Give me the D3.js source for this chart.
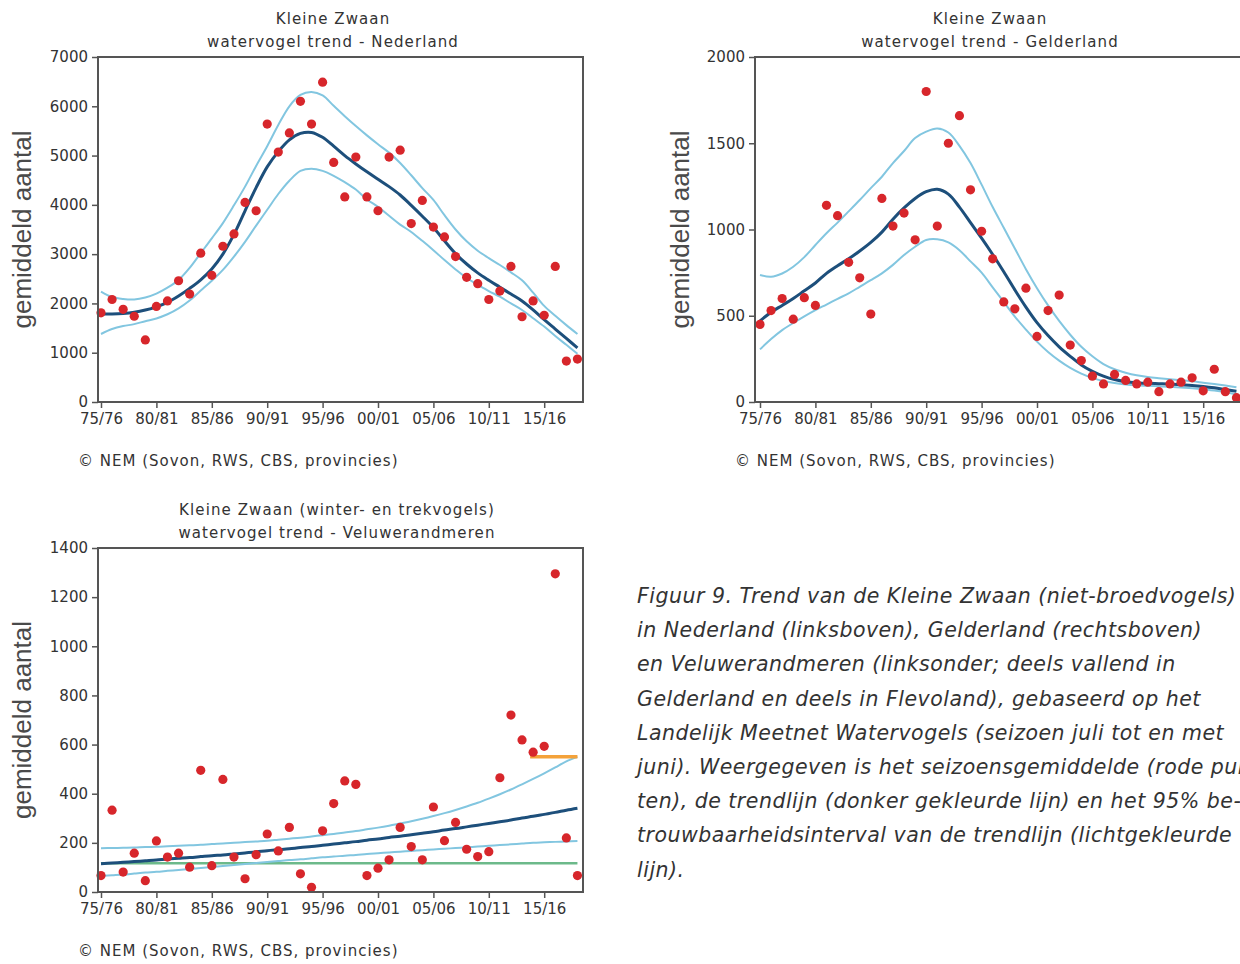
<!DOCTYPE html>
<html>
<head>
<meta charset="utf-8">
<script src="https://cdn.jsdelivr.net/npm/d3@7"></script>
<style>
  html, body { margin: 0; padding: 0; background: #fff; }
  svg { display: block; }
</style>
</head>
<body>
<svg id="chart" width="1240" height="964"></svg>
<script>
// ---------------- DATA ----------------
const seasons = ["75/76","76/77","77/78","78/79","79/80","80/81","81/82","82/83","83/84","84/85",
  "85/86","86/87","87/88","88/89","89/90","90/91","91/92","92/93","93/94","94/95",
  "95/96","96/97","97/98","98/99","99/00","00/01","01/02","02/03","03/04","04/05",
  "05/06","06/07","07/08","08/09","09/10","10/11","11/12","12/13","13/14","14/15",
  "15/16","16/17","17/18","18/19"];
const xTickLabels = ["75/76","80/81","85/86","90/91","95/96","00/01","05/06","10/11","15/16"];

// Nederland
const nlTicks = [0,1000,2000,3000,4000,5000,6000,7000];
const nlPoints = [1810,2080,1880,1740,1260,1940,2050,2460,2190,3020,2570,3160,3410,4050,3880,5640,5070,5460,6100,5640,
  6490,4860,4160,4970,4160,3880,4970,5110,3620,4090,3550,3350,2950,2530,2400,2080,2250,2750,1730,2050,1760,2750,830,870];
const nlTrend = [1785,1785,1795,1820,1865,1930,2020,2150,2305,2480,2700,3000,3400,3880,4350,4770,5080,5320,5450,5470,
  5370,5190,5000,4830,4670,4520,4370,4200,3990,3770,3540,3270,3010,2800,2620,2470,2330,2190,2050,1870,1670,1480,1290,1100];
const nlUpper = [2240,2130,2090,2080,2120,2200,2320,2475,2720,3020,3320,3630,3990,4370,4790,5190,5620,6000,6230,6290,
  6220,6010,5800,5600,5410,5230,5060,4850,4600,4340,4100,3790,3500,3260,3070,2920,2780,2630,2470,2220,1950,1750,1560,1380];
const nlLower = [1380,1480,1540,1580,1640,1695,1780,1900,2060,2260,2460,2680,2950,3250,3580,3900,4220,4490,4690,4735,
  4690,4590,4460,4310,4110,3960,3780,3600,3450,3270,3080,2880,2690,2515,2380,2250,2136,2000,1866,1700,1530,1340,1160,980];

// Gelderland
const geTicks = [0,500,1000,1500,2000];
const gePoints = [450,530,600,480,605,560,1140,1080,810,720,510,1180,1020,1095,940,1800,1020,1500,1660,1230,
  990,830,580,540,660,380,530,620,330,240,150,105,160,125,105,115,60,105,115,140,65,190,60,25];
const geTrend = [470,520,560,600,645,690,746,790,830,875,925,985,1060,1125,1180,1219,1233,1205,1130,1040,
  950,855,755,650,550,460,385,320,265,215,178,150,130,118,112,108,106,104,100,96,90,82,72,62];
const geUpper = [736,726,745,784,840,910,978,1040,1105,1171,1240,1306,1385,1455,1530,1567,1585,1562,1485,1385,
  1260,1130,1010,890,770,660,560,470,390,320,265,220,190,170,155,145,138,132,126,120,112,104,95,85];
const geLower = [305,365,417,458,497,533,565,598,630,668,706,746,795,852,900,939,943,925,880,815,
  750,665,580,495,420,350,290,240,198,165,140,122,110,102,97,94,91,88,84,80,74,66,57,45];

// Veluwerandmeren
const veTicks = [0,200,400,600,800,1000,1200,1400];
const vePoints = [67,333,81,158,46,208,142,158,101,495,107,458,142,54,152,236,167,263,74,19,
  249,360,452,438,67,97,131,263,185,131,346,209,283,174,144,164,465,720,619,569,593,1295,220,67];
const veTrend = [115,118,121,124,127,130,134,137,140,144,148,151,155,159,163,168,172,176,181,185,
  190,195,200,205,211,216,222,227,233,239,245,252,258,265,272,279,286,293,301,308,316,324,333,341];
const veUpper = [178,179,180,181,183,184,186,188,190,192,195,197,200,203,206,209,213,217,221,226,
  231,236,242,248,255,262,270,279,288,298,309,321,334,348,363,380,398,417,438,460,483,507,532,550];
const veLower = [65,68,71,75,79,82,86,90,94,98,102,106,110,114,118,122,126,130,133,137,
  141,144,148,151,155,158,161,164,167,170,173,176,179,182,185,188,191,194,197,200,202,204,206,208];
const veGreen = {value: 117, from: "75/76", to: "18/19"};
const veOrange = {value: 550, from: "14/15", to: "18/19"};

const captionLines = [
  "Figuur 9. Trend van de Kleine Zwaan (niet-broedvogels)",
  "in Nederland (linksboven), Gelderland (rechtsboven)",
  "en Veluwerandmeren (linksonder; deels vallend in",
  "Gelderland en deels in Flevoland), gebaseerd op het",
  "Landelijk Meetnet Watervogels (seizoen juli tot en met",
  "juni). Weergegeven is het seizoensgemiddelde (rode pun-",
  "ten), de trendlijn (donker gekleurde lijn) en het 95% be-",
  "trouwbaarheidsinterval van de trendlijn (lichtgekleurde",
  "lijn)."
];
const credit = "\u00A9 NEM (Sovon, RWS, CBS, provincies)";

// ---------------- STYLE ----------------
const C = {
  dot: "#d7262b",
  trend: "#1d4f7b",
  ci: "#82c6e0",
  green: "#6cb98a",
  orange: "#f4a23a",
  frame: "#555",
  text: "#333"
};
const FONT = "'DejaVu Sans', Verdana, sans-serif";

const svg = d3.select("#chart");
svg.append("rect").attr("width",1240).attr("height",964).attr("fill","#fff");

function panel(cfg) {
  const g = svg.append("g");
  const idx = s => seasons.indexOf(s);
  const x = d3.scaleLinear().domain([0, seasons.length - 1]).range([cfg.x0, cfg.x0 + 11.08 * (seasons.length - 1)]);
  const y = d3.scaleLinear().domain([0, cfg.ymax]).range([cfg.bottom, cfg.top]);
  const left = cfg.frameLeft, right = cfg.frameRight;

  const line = d3.line().x((d, i) => x(i)).y(d => y(d)).curve(d3.curveCatmullRom.alpha(0.5));
  const clipId = "clip" + cfg.id;
  g.append("clipPath").attr("id", clipId).append("rect")
    .attr("x", left).attr("y", cfg.top).attr("width", right - left).attr("height", cfg.bottom - cfg.top);
  const lg = g.append("g").attr("clip-path", `url(#${clipId})`);

  if (cfg.green) {
    lg.append("line")
      .attr("x1", x(idx(cfg.green.from))).attr("x2", x(idx(cfg.green.to)))
      .attr("y1", y(cfg.green.value)).attr("y2", y(cfg.green.value))
      .attr("stroke", C.green).attr("stroke-width", 2.5);
  }
  [cfg.upper, cfg.lower].forEach(arr => {
    lg.append("path").datum(arr).attr("d", line).attr("fill","none")
      .attr("stroke", C.ci).attr("stroke-width", 2);
  });
  lg.append("path").datum(cfg.trend).attr("d", line).attr("fill","none")
    .attr("stroke", C.trend).attr("stroke-width", 3);
  if (cfg.orange) {
    lg.append("line")
      .attr("x1", x(idx(cfg.orange.from)) - 3).attr("x2", x(idx(cfg.orange.to)))
      .attr("y1", y(cfg.orange.value)).attr("y2", y(cfg.orange.value))
      .attr("stroke", C.orange).attr("stroke-width", 3.5);
  }
  g.append("g").selectAll("circle").data(cfg.points).join("circle")
    .attr("cx", (d, i) => x(i)).attr("cy", d => y(d)).attr("r", 4.6).attr("fill", C.dot);

  g.append("rect").attr("x", left).attr("y", cfg.top).attr("width", right - left)
    .attr("height", cfg.bottom - cfg.top).attr("fill", "none")
    .attr("stroke", C.frame).attr("stroke-width", 2);

  const yAxis = d3.axisLeft(y).tickValues(cfg.yTicks).tickSize(6).tickPadding(4).tickFormat(d3.format("d"));
  const ya = g.append("g").attr("transform", `translate(${left},0)`).call(yAxis);
  ya.select(".domain").remove();
  ya.selectAll("line").attr("stroke", C.frame).attr("stroke-width", 1.5);
  ya.selectAll("text").attr("font-family", FONT).attr("font-size", 15).attr("fill", C.text);

  const xAxis = d3.axisBottom(x).tickValues(xTickLabels.map(idx)).tickSize(6).tickPadding(5)
    .tickFormat(i => seasons[i]);
  const xa = g.append("g").attr("transform", `translate(0,${cfg.bottom})`).call(xAxis);
  xa.select(".domain").remove();
  xa.selectAll("line").attr("stroke", C.frame).attr("stroke-width", 1.5);
  xa.selectAll("text").attr("font-family", FONT).attr("font-size", 15).attr("fill", C.text);

  g.append("text").attr("transform", `translate(${cfg.ylabX},${(cfg.top + cfg.bottom) / 2}) rotate(-90)`)
    .attr("text-anchor","middle").attr("dominant-baseline","central")
    .attr("font-family","'Liberation Sans', Arial, sans-serif").attr("font-size", 26)
    .attr("fill", "#4a4a4a").text("gemiddeld aantal");

  cfg.title.forEach((t, i) => {
    g.append("text").attr("x", cfg.titleX).attr("y", cfg.titleY + i * 23)
      .attr("text-anchor","middle").attr("dominant-baseline","central")
      .attr("font-family", FONT).attr("font-size", 15).attr("letter-spacing", 1.1)
      .attr("fill", C.text).text(t);
  });
  g.append("text").attr("x", cfg.creditX).attr("y", cfg.bottom + 59)
    .attr("dominant-baseline","central")
    .attr("font-family", FONT).attr("font-size", 15).attr("letter-spacing", 1)
    .attr("fill", C.text).text(credit);
}

panel({id: 1, x0: 101, frameLeft: 98, frameRight: 583, top: 57, bottom: 402, ymax: 7000,
  yTicks: nlTicks, points: nlPoints, trend: nlTrend, upper: nlUpper, lower: nlLower,
  ylabX: 22, title: ["Kleine Zwaan", "watervogel trend - Nederland"], titleX: 333, titleY: 19, creditX: 78});

panel({id: 2, x0: 760, frameLeft: 755, frameRight: 1243, top: 57, bottom: 402, ymax: 2000,
  yTicks: geTicks, points: gePoints, trend: geTrend, upper: geUpper, lower: geLower,
  ylabX: 680, title: ["Kleine Zwaan", "watervogel trend - Gelderland"], titleX: 990, titleY: 19, creditX: 735});

panel({id: 3, x0: 101, frameLeft: 98, frameRight: 583, top: 548, bottom: 892, ymax: 1400,
  yTicks: veTicks, points: vePoints, trend: veTrend, upper: veUpper, lower: veLower,
  green: veGreen, orange: veOrange,
  ylabX: 22, title: ["Kleine Zwaan (winter- en trekvogels)", "watervogel trend - Veluwerandmeren"],
  titleX: 337, titleY: 510, creditX: 78});

const cap = svg.append("text").attr("font-family", FONT).attr("font-style","italic")
  .attr("font-size", 20.5).attr("letter-spacing", 0.5).attr("fill", C.text);
captionLines.forEach((t, i) => {
  cap.append("tspan").attr("x", 637).attr("y", 603 + i * 34.2).text(t);
});
</script>
</body>
</html>
